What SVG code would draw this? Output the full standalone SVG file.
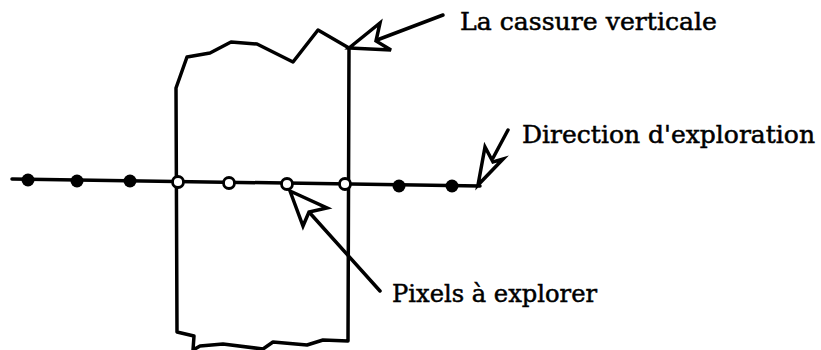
<svg xmlns="http://www.w3.org/2000/svg" width="821" height="350" viewBox="0 0 821 350">
<style>
.ln{fill:none;stroke:#000;stroke-width:3.5;stroke-linejoin:round;stroke-linecap:round}
.head{fill:#fff;stroke:#000;stroke-width:3.5;stroke-linejoin:miter}
.full{fill:#000}
.open{fill:#fff;stroke:#000;stroke-width:2.8}
.lbl{font-family:"DejaVu Serif","Liberation Serif",serif;font-size:24px;fill:#000;stroke:#000;stroke-width:0.5}
</style>
<rect width="821" height="350" fill="#fff"/>
<g id="break">
<path class="ln" d="M177,332 L176,88 L187,57 L210,53 L231,42 L257,44 L293,62 L318,30 L349,48 L348,341 L323,340 L307,345 L273,342 L263,349 L223,344 L200,346 L193,350 L194,336 Z"/>
</g>
<g id="scanline">
<path class="ln" d="M12,179 L480,186"/>
</g>
<g id="pixels">
<circle class="full" cx="28" cy="180" r="6.5"/>
<circle class="full" cx="77" cy="181" r="6.5"/>
<circle class="full" cx="130" cy="181" r="6.5"/>
<circle class="open" cx="178" cy="182" r="5.5"/>
<circle class="open" cx="229" cy="183" r="5.5"/>
<circle class="open" cx="287" cy="184" r="5.5"/>
<circle class="open" cx="345" cy="184" r="5.5"/>
<circle class="full" cx="399" cy="186" r="6.5"/>
<circle class="full" cx="452" cy="186" r="6.5"/>
</g>
<g id="connectors">
<path class="ln" d="M443,15 L377,40"/>
<polygon class="head" points="349,48 380,23 376,41 391,50"/>
<path class="ln" d="M380,291 L309,212"/>
<polygon class="head" points="290,191 303,226 309,212 327,208"/>
<path class="ln" d="M508,130 L493,158"/>
<polygon class="head" points="478,185 485,147 493,162 503,159"/>
</g>
<g id="label-cassure"><text class="lbl" x="460" y="30" textLength="257" lengthAdjust="spacingAndGlyphs">La cassure verticale</text></g>
<g id="label-direction"><text class="lbl" x="522" y="143" textLength="293" lengthAdjust="spacingAndGlyphs">Direction d'exploration</text></g>
<g id="label-pixels"><text class="lbl" x="392" y="302" textLength="205" lengthAdjust="spacingAndGlyphs">Pixels à explorer</text></g>
</svg>
